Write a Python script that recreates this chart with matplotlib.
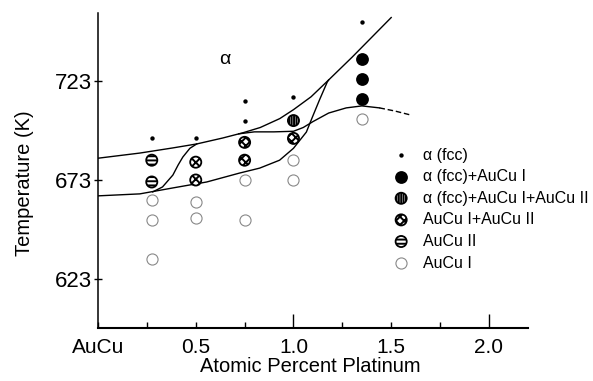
import numpy as np
import matplotlib
matplotlib.use("Agg")
import matplotlib.pyplot as plt

plt.rcParams['font.family'] = ['Liberation Sans', 'DejaVu Sans']
plt.rcParams['hatch.linewidth'] = 1.4

# phase points: (atomic % Pt, temperature K)
fcc_x = [0.275, 0.5, 0.75, 0.75, 1.0, 1.35]
fcc_t = [694, 694, 713, 703, 715, 753]

fcc_au1_x = [1.35, 1.35, 1.35]
fcc_au1_t = [734, 724, 714]

fcc_au1_au2_x = [1.0]
fcc_au1_au2_t = [703]

au1_au2_x = [0.5, 0.5, 0.75, 0.75, 1.0]
au1_au2_t = [682, 673, 692, 683, 694]

au2_x = [0.275, 0.275]
au2_t = [683, 672]

au1_x = [0.275, 0.275, 0.275, 0.5, 0.5, 0.75, 0.75, 1.0, 1.0, 1.35]
au1_t = [663, 653, 633, 662, 654, 673, 653, 683, 673, 704]

# phase boundaries traced by hand
upper_x = [0, 0.214, 0.383, 0.505, 0.638, 0.74, 0.83, 0.93, 1.0, 1.09, 1.18, 1.3, 1.4, 1.5]
upper_t = [684, 686.6, 689.2, 691.2, 694.2, 696.8, 699.5, 704, 708.5, 715, 723.5, 735, 745, 755]

mid_x = [0.72, 0.8, 0.9, 1.0, 1.05, 1.1, 1.18, 1.27, 1.35, 1.44]
mid_t = [696.3, 697.3, 697.3, 697.6, 699.5, 702.5, 706.8, 709.4, 710.4, 709.4]

dash_x = [1.44, 1.52, 1.6]
dash_t = [709.4, 707.8, 705.8]

sig_x = [0.28, 0.33, 0.383, 0.41, 0.434, 0.47, 0.505]
sig_t = [667, 669.5, 675.5, 680.6, 684.6, 689, 691.2]

lower_x = [0, 0.214, 0.383, 0.556, 0.724, 0.827, 0.929, 1.0, 1.066, 1.097, 1.133, 1.173, 1.18]
lower_t = [665, 666, 669, 672, 676.5, 679, 683, 689, 697.2, 704.8, 713.4, 722.5, 723.5]

fig = plt.figure(figsize=(5.93, 3.81), dpi=100)
ax = fig.add_axes([0.1653, 0.1391, 0.7251, 0.8268])

for xs, ts in [(upper_x, upper_t), (mid_x, mid_t), (sig_x, sig_t), (lower_x, lower_t)]:
    ax.plot(xs, ts, color='black', lw=1.0, zorder=2)
ax.plot(dash_x, dash_t, color='black', lw=1.0, ls=(0, (4, 2)), zorder=2)

styles = [
    (fcc_x, fcc_t, dict(s=10, c='black', linewidths=0), r'α (fcc)'),
    (fcc_au1_x, fcc_au1_t, dict(s=85, c='black', linewidths=0), r'α (fcc)+AuCu I'),
    (fcc_au1_au2_x, fcc_au1_au2_t, dict(s=64, facecolor='white', edgecolor='black', hatch='|||||||', linewidths=1.3), r'α (fcc)+AuCu I+AuCu II'),
    (au1_au2_x, au1_au2_t, dict(s=64, facecolor='white', edgecolor='black', hatch='xxxx', linewidths=1.3), 'AuCu I+AuCu II'),
    (au2_x, au2_t, dict(s=64, facecolor='white', edgecolor='black', hatch='----', linewidths=1.3), 'AuCu II'),
    (au1_x, au1_t, dict(s=64, facecolor='white', edgecolor='#888888', linewidths=0.8), 'AuCu I'),
]

for i, (xs, ts, kw, label) in enumerate(styles):
    ax.scatter(xs, ts, zorder=3, **kw)
    # legend rows
    ly = 0.549 - i * 0.0686
    ax.scatter([0.705], [ly], transform=ax.transAxes, clip_on=False, zorder=3, **kw)
    ax.text(0.755, ly, label, transform=ax.transAxes, fontsize=11.5, va='center', ha='left')

ax.text(0.65, 733.6, 'α', fontsize=14, ha='center', va='center')

ax.set_xlim(0, 2.2)
ax.set_ylim(598.3, 757.3)

ax.spines['top'].set_visible(False)
ax.spines['right'].set_visible(False)
ax.spines['left'].set_linewidth(1.1)
ax.spines['bottom'].set_linewidth(1.5)

ax.set_xticks([0, 0.5, 1.0, 1.5, 2.0])
ax.set_xticklabels(['AuCu', '0.5', '1.0', '1.5', '2.0'])
ax.set_xticks([0.25, 0.75, 1.25, 1.75], minor=True)
ax.tick_params(axis='x', which='both', direction='in', length=4, width=1.0, labelsize=15, pad=7)
for t in ax.xaxis.get_major_ticks():
    if t.get_loc() in (1.0, 2.0):
        t.tick1line.set_markersize(10)

ax.set_yticks([623, 673, 723])
ax.tick_params(axis='y', direction='inout', length=6, width=1.0, labelsize=16, pad=1)

ax.set_xlabel('Atomic Percent Platinum', fontsize=14.5)
ax.set_ylabel('Temperature (K)', fontsize=14.5)
ax.xaxis.set_label_coords(0.493, -0.092)
ax.yaxis.set_label_coords(-0.149, 0.46)

fig.savefig('out.png', dpi=100)
